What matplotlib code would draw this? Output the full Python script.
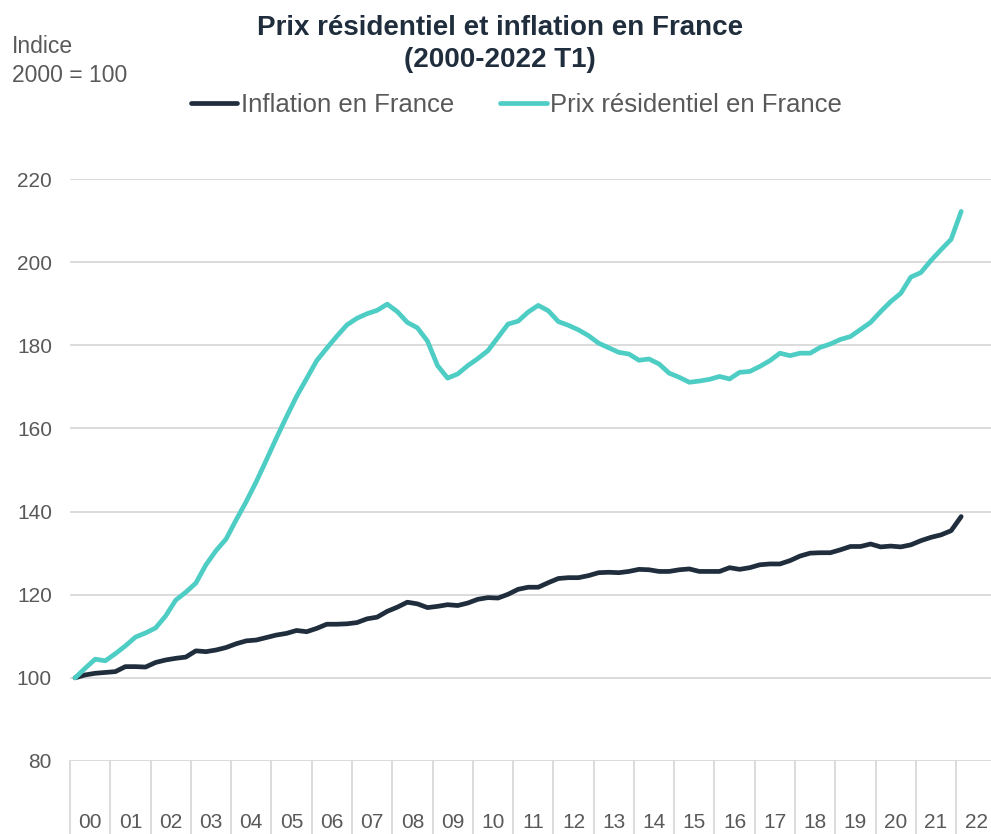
import numpy as np
import matplotlib
matplotlib.use("Agg")
import matplotlib.pyplot as plt
import matplotlib.transforms as mtransforms

plt.rcParams['font.family'] = ['Liberation Sans', 'DejaVu Sans']

# quarterly series, 2000 T1 -> 2022 T1, index 2000 = 100
years = ['00', '01', '02', '03', '04', '05', '06', '07', '08', '09', '10', '11',
         '12', '13', '14', '15', '16', '17', '18', '19', '20', '21', '22']
inflation = [100, 100.7, 101.1, 101.3, 101.5, 102.7, 102.7, 102.6, 103.7, 104.3,
             104.7, 105.0, 106.5, 106.3, 106.7, 107.3, 108.2, 108.9, 109.1, 109.7,
             110.3, 110.7, 111.4, 111.1, 111.9, 112.9, 112.9, 113.0, 113.3, 114.2,
             114.6, 116.0, 117.0, 118.2, 117.8, 116.9, 117.2, 117.6, 117.4, 118.0,
             118.9, 119.3, 119.2, 120.1, 121.3, 121.8, 121.8, 122.9, 123.9, 124.1,
             124.1, 124.6, 125.3, 125.4, 125.3, 125.6, 126.1, 126.0, 125.6, 125.6,
             126.0, 126.2, 125.6, 125.6, 125.6, 126.5, 126.1, 126.5, 127.2, 127.4,
             127.4, 128.2, 129.3, 130.0, 130.1, 130.1, 130.8, 131.6, 131.6, 132.2,
             131.5, 131.7, 131.5, 132.0, 133.0, 133.8, 134.4, 135.4, 138.8]
prix = [100, 102.3, 104.5, 104.1, 105.8, 107.7, 109.8, 110.8, 112.0, 114.9,
        118.7, 120.6, 122.8, 127.2, 130.6, 133.4, 138.0, 142.4, 147.2, 152.4,
        157.7, 162.8, 167.7, 172.0, 176.3, 179.3, 182.2, 184.9, 186.5, 187.6,
        188.4, 189.9, 188.1, 185.5, 184.2, 181.0, 175.1, 172.1, 173.1, 175.1,
        176.8, 178.7, 181.9, 185.1, 185.8, 188.0, 189.6, 188.3, 185.7, 184.8,
        183.7, 182.3, 180.5, 179.4, 178.3, 177.9, 176.4, 176.7, 175.5, 173.3,
        172.3, 171.1, 171.4, 171.8, 172.5, 171.9, 173.5, 173.7, 174.9, 176.3,
        178.1, 177.5, 178.1, 178.1, 179.5, 180.3, 181.4, 182.1, 183.8, 185.5,
        188.1, 190.5, 192.5, 196.4, 197.5, 200.4, 203.0, 205.5, 212.2]

dark = '#1f2d3d'
teal = '#4ecdc4'
grid = '#d9d9d9'
txt = '#595959'

W, H = 991, 834
fig = plt.figure(figsize=(W / 100, H / 100), dpi=100)
n_cat = 4 * len(years)
cat_w = 10.07
left, right = 70, 70 + n_cat * cat_w
top, bottom = 179, 761
ax = fig.add_axes([left / W, 1 - bottom / H, (right - left) / W, (bottom - top) / H])

x = np.arange(len(prix))
ax.plot(x, inflation, color=dark, lw=3.4, solid_capstyle='round', solid_joinstyle='round',
        label='Inflation en France', zorder=3)
ax.plot(x, prix, color=teal, lw=3.4, solid_capstyle='round', solid_joinstyle='round',
        label='Prix résidentiel en France', zorder=3)

ax.set_xlim(-0.5, n_cat - 0.5)
ax.set_ylim(80, 220)
ax.set_yticks(range(80, 221, 20))
for v in range(80, 221, 20):
    ax.axhline(v, color=grid, lw=1.3, zorder=1)
for s in ax.spines.values():
    s.set_visible(False)
ax.tick_params(axis='y', length=0, pad=13, labelsize=15, labelcolor=txt)
ax.set_xticks([])

# year separators and labels below the axis
trans = mtransforms.blended_transform_factory(ax.transData, ax.transAxes)
for k in range(len(years) + 1):
    ax.plot([k * 4 - 0.5] * 2, [0, -0.2], color=grid, lw=1.3, transform=trans, clip_on=False)
for k, lab in enumerate(years):
    ax.text(k * 4 + 1.5, -0.105, lab, transform=trans, ha='center', va='center',
            fontsize=15, color=txt)

fig.text(500 / W, 1 - 44 / H, 'Prix résidentiel et inflation en France\n(2000-2022 T1)',
         ha='center', va='center', fontsize=20, fontweight='bold', color=dark, linespacing=1.3)
fig.text(12 / W, 1 - 61 / H, 'Indice\n2000 = 100', ha='left', va='center',
         fontsize=16.5, color=txt, linespacing=1.3)

fig.legend(loc='center', bbox_to_anchor=(516.5 / W, 1 - 105 / H), ncol=2, frameon=False,
           fontsize=18.5, handlelength=1.8, handletextpad=0.15, columnspacing=1.8,
           labelcolor=txt)

fig.savefig('out.png', dpi=100)
